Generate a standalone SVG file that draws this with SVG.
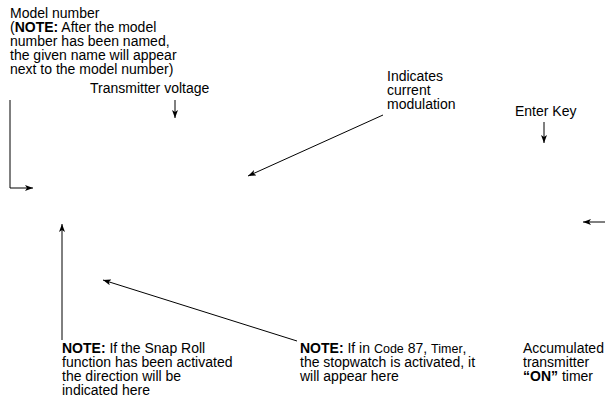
<svg xmlns="http://www.w3.org/2000/svg" width="605" height="398" viewBox="0 0 605 398">
<defs>
<marker id="ah" markerWidth="8" markerHeight="6" refX="8" refY="3" orient="auto" markerUnits="userSpaceOnUse">
<path d="M0,0 L8,3 L0,6 L2,3 Z" fill="#000"/>
</marker>
</defs>
<style>
text{font-family:"Liberation Sans",Arial,sans-serif;font-size:14px;fill:#000}
.b{font-weight:bold}
.n{font-size:12.5px}
.c{fill:none;stroke:#000;stroke-width:1;marker-end:url(#ah)}
</style>
<rect width="605" height="398" fill="#fff"/>
<g id="model-number">
<text x="10" y="18">Model number<tspan x="10" dy="14">(</tspan><tspan class="b">NOTE:</tspan> After the model<tspan x="10" dy="14">number has been named,</tspan><tspan x="10" dy="14">the given name will appear</tspan><tspan x="10" dy="14">next to the model number)</tspan></text>
</g>
<g id="transmitter-voltage">
<text x="90" y="93">Transmitter voltage</text>
</g>
<g id="current-modulation">
<text x="387" y="81">Indicates<tspan x="387" dy="14">current</tspan><tspan x="387" dy="14">modulation</tspan></text>
</g>
<g id="enter-key">
<text x="515" y="116">Enter Key</text>
</g>
<g id="snap-roll">
<text x="62" y="353"><tspan class="b">NOTE:</tspan> If the Snap Roll<tspan x="62" dy="14">function has been activated</tspan><tspan x="62" dy="14">the direction will be</tspan><tspan x="62" dy="13.5">indicated here</tspan></text>
</g>
<g id="stopwatch">
<text x="300" y="353"><tspan class="b">NOTE:</tspan> If in <tspan class="n">Code</tspan> 87, <tspan class="n">Timer</tspan>,<tspan x="300" dy="14">the stopwatch is activated, it</tspan><tspan x="300" dy="14">will appear here</tspan></text>
</g>
<g id="on-timer">
<text x="523" y="353">Accumulated<tspan x="523" dy="14">transmitter</tspan><tspan x="523" dy="14" class="b">“ON”</tspan> timer</text>
</g>
<g id="connectors">
<path class="c" d="M10,100 V188 H33"/>
<path class="c" d="M175,100 V118"/>
<path class="c" d="M383,115 L248,176"/>
<path class="c" d="M544,122 V143"/>
<path class="c" d="M605,222 H583"/>
<path class="c" d="M62,340 V224"/>
<path class="c" d="M297,341 L103,280"/>
</g>
</svg>
